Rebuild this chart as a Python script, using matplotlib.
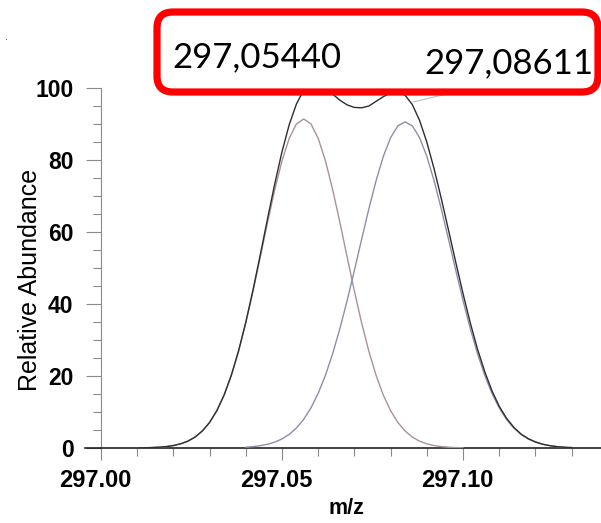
import matplotlib
matplotlib.use("Agg")
import matplotlib.pyplot as plt
from matplotlib.patches import FancyBboxPatch
from matplotlib.transforms import IdentityTransform, ScaledTranslation
from matplotlib.ticker import MultipleLocator, FixedLocator

# ---------------- data ----------------
mz_left = [297.010, 297.012, 297.014, 297.016, 297.018, 297.020, 297.022, 297.024,
           297.026, 297.028, 297.030, 297.032, 297.034, 297.036, 297.038, 297.040,
           297.042, 297.044, 297.046, 297.048, 297.050, 297.052, 297.054, 297.056,
           297.058, 297.060, 297.062, 297.064, 297.066, 297.068, 297.070, 297.072,
           297.074, 297.076, 297.078, 297.080, 297.082, 297.084, 297.086, 297.088,
           297.090, 297.092, 297.094, 297.096, 297.098, 297.100]
ab_left = [0.03, 0.06, 0.12, 0.22, 0.39, 0.68, 1.16, 1.90, 3.04, 4.73, 7.09, 10.36,
           14.66, 20.14, 26.85, 34.73, 43.57, 53.03, 62.63, 71.75, 79.77, 86.04,
           90.03, 91.40, 90.03, 86.04, 79.77, 71.75, 62.63, 53.03, 43.57, 34.73,
           26.85, 20.14, 14.66, 10.36, 7.09, 4.73, 3.04, 1.90, 1.16, 0.68, 0.39,
           0.22, 0.12, 0.06]

mz_right = [297.040, 297.042, 297.044, 297.046, 297.048, 297.050, 297.052, 297.054,
            297.056, 297.058, 297.060, 297.062, 297.064, 297.066, 297.068, 297.070,
            297.072, 297.074, 297.076, 297.078, 297.080, 297.082, 297.084, 297.086,
            297.088, 297.090, 297.092, 297.094, 297.096, 297.098, 297.100, 297.102,
            297.104, 297.106, 297.108, 297.110, 297.112, 297.114, 297.116, 297.118,
            297.120, 297.122, 297.124, 297.126, 297.128]
ab_right = [0.22, 0.38, 0.64, 1.03, 1.63, 2.52, 3.79, 5.56, 7.97, 11.14, 15.19,
            20.20, 26.22, 33.19, 40.97, 49.35, 57.99, 66.45, 74.29, 81.03, 86.21,
            89.49, 90.60, 89.49, 86.21, 81.03, 74.29, 66.45, 57.99, 49.35, 40.97,
            33.19, 26.22, 20.20, 15.19, 11.14, 7.97, 5.56, 3.79, 2.52, 1.63, 1.03,
            0.64, 0.38, 0.22]

mz_env = [297.010, 297.012, 297.014, 297.016, 297.018, 297.020, 297.022, 297.024,
          297.026, 297.028, 297.030, 297.032, 297.034, 297.036, 297.038, 297.040,
          297.042, 297.044, 297.046, 297.048, 297.050, 297.052, 297.054, 297.056,
          297.058, 297.060, 297.062, 297.064, 297.066, 297.068, 297.070, 297.072,
          297.074, 297.076, 297.078, 297.080, 297.082, 297.084, 297.086, 297.088,
          297.090, 297.092, 297.094, 297.096, 297.098, 297.100, 297.102, 297.104,
          297.106, 297.108, 297.110, 297.112, 297.114, 297.116, 297.118, 297.120,
          297.122, 297.124, 297.126, 297.128, 297.130]
ab_env = [0.03, 0.06, 0.12, 0.22, 0.39, 0.68, 1.16, 1.90, 3.04, 4.74, 7.10, 10.38,
          14.70, 20.21, 26.98, 34.95, 43.95, 53.67, 63.66, 73.38, 82.29, 89.83,
          95.59, 99.40, 101.0, 101.0, 99.90, 98.30, 96.60, 95.30, 94.60, 94.50,
          95.00, 96.30, 97.60, 98.60, 98.90, 98.00, 95.40, 91.00, 85.00, 77.60,
          69.30, 60.50, 51.60, 42.90, 34.80, 27.50, 21.20, 15.90, 11.60, 8.30,
          5.80, 3.90, 2.60, 1.70, 1.05, 0.65, 0.38, 0.22, 0.13]

x_major = [297.00, 297.05, 297.10]
x_labels = ["297.00", "297.05", "297.10"]
y_major = [0, 20, 40, 60, 80, 100]
peak_labels = ["297,05440", "297,08611"]
leader_mz = [297.0862, 297.0992]
leader_ab = [96.1, 99.2]

# ---------------- figure ----------------
W, H, DPI = 601, 523, 100
fig = plt.figure(figsize=(W / DPI, H / DPI), dpi=DPI)
plt.rcParams['font.family'] = ['Liberation Sans', 'DejaVu Sans']

px_per_unit = 3620.0
spine_px, axis_start_px, y0_px, top_px = 101, 85, 448, 52
xmin = 297.0
xmax = 297.0 + (W - spine_px) / px_per_unit
ax = fig.add_axes([spine_px / W, (H - y0_px) / H, (W - spine_px) / W, (y0_px - top_px) / H])
ax.set_xlim(xmin, xmax)
ax.set_ylim(0, (y0_px - top_px) / 3.6)

ax.plot(mz_left, ab_left, color="#a8929c", lw=1.0, zorder=3)
ax.plot(mz_right, ab_right, color="#8e8eab", lw=1.0, zorder=3)
ax.plot(mz_env, ab_env, color="#2e2e2e", lw=1.0, zorder=4)
ax.plot(leader_mz, leader_ab, color="#bdbdbd", lw=0.8, zorder=2)

for s in ["top", "right"]:
    ax.spines[s].set_visible(False)
ax.spines["left"].set_bounds(0, 100)
ax.spines["left"].set_color("#8a8a8a")
ax.spines["left"].set_linewidth(0.8)
ax.spines["bottom"].set_bounds(297.0 - (spine_px - axis_start_px) / px_per_unit, xmax)
ax.spines["bottom"].set_color("#111111")
ax.spines["bottom"].set_linewidth(1.1)

ax.xaxis.set_major_locator(FixedLocator(x_major))
ax.set_xticklabels(x_labels)
ax.xaxis.set_minor_locator(MultipleLocator(0.01))
ax.yaxis.set_major_locator(FixedLocator(y_major))
ax.yaxis.set_minor_locator(FixedLocator([v for v in range(5, 100, 5) if v % 20]))

ax.tick_params(axis="x", which="major", direction="out", length=8.6, width=0.8,
               color="#8a8a8a", pad=6.5, labelsize=17)
ax.tick_params(axis="x", which="minor", direction="out", length=5.8, width=0.8,
               color="#8a8a8a")
ax.tick_params(axis="y", which="major", direction="out", length=10.8, width=0.8,
               color="#8a8a8a", pad=9, labelsize=16.5)
ax.tick_params(axis="y", which="minor", direction="out", length=5.8, width=0.8,
               color="#8a8a8a")
for lab in ax.get_xticklabels() + ax.get_yticklabels():
    lab.set_fontweight("bold")
for lab in ax.get_xticklabels():
    lab.set_transform(lab.get_transform() + ScaledTranslation(-6 / DPI, 0, fig.dpi_scale_trans))

ax.set_xlabel("m/z", fontsize=15.5, fontweight="bold", labelpad=4)
ax.xaxis.set_label_coords((346 - spine_px) / (W - spine_px), -(509 - y0_px) / (y0_px - top_px))
ax.xaxis.label.set_va("center")
fig.text(30 / W, 1 - 280 / H, "Relative Abundance", rotation=90, ha="center",
         va="center", fontsize=18)

fig.text(6 / W, 1 - 37 / H, ".", fontsize=8, ha="center", va="center", color="#333333")

# red callout box with the two peak m/z values
box = FancyBboxPatch((157, H - 92), 441, 80, boxstyle="round,pad=0,rounding_size=16",
                     transform=IdentityTransform(), facecolor="white",
                     edgecolor="#ff0000", linewidth=5.2, zorder=10)
fig.add_artist(box)
fig.text(172 / W, (H - 67) / H, peak_labels[0], family=["Lato", "DejaVu Sans"],
         fontsize=25, ha="left", va="baseline", zorder=11)
fig.text(424 / W, (H - 73) / H, peak_labels[1], family=["Lato", "DejaVu Sans"],
         fontsize=25, ha="left", va="baseline", zorder=11)

fig.savefig("out.png", dpi=DPI)
